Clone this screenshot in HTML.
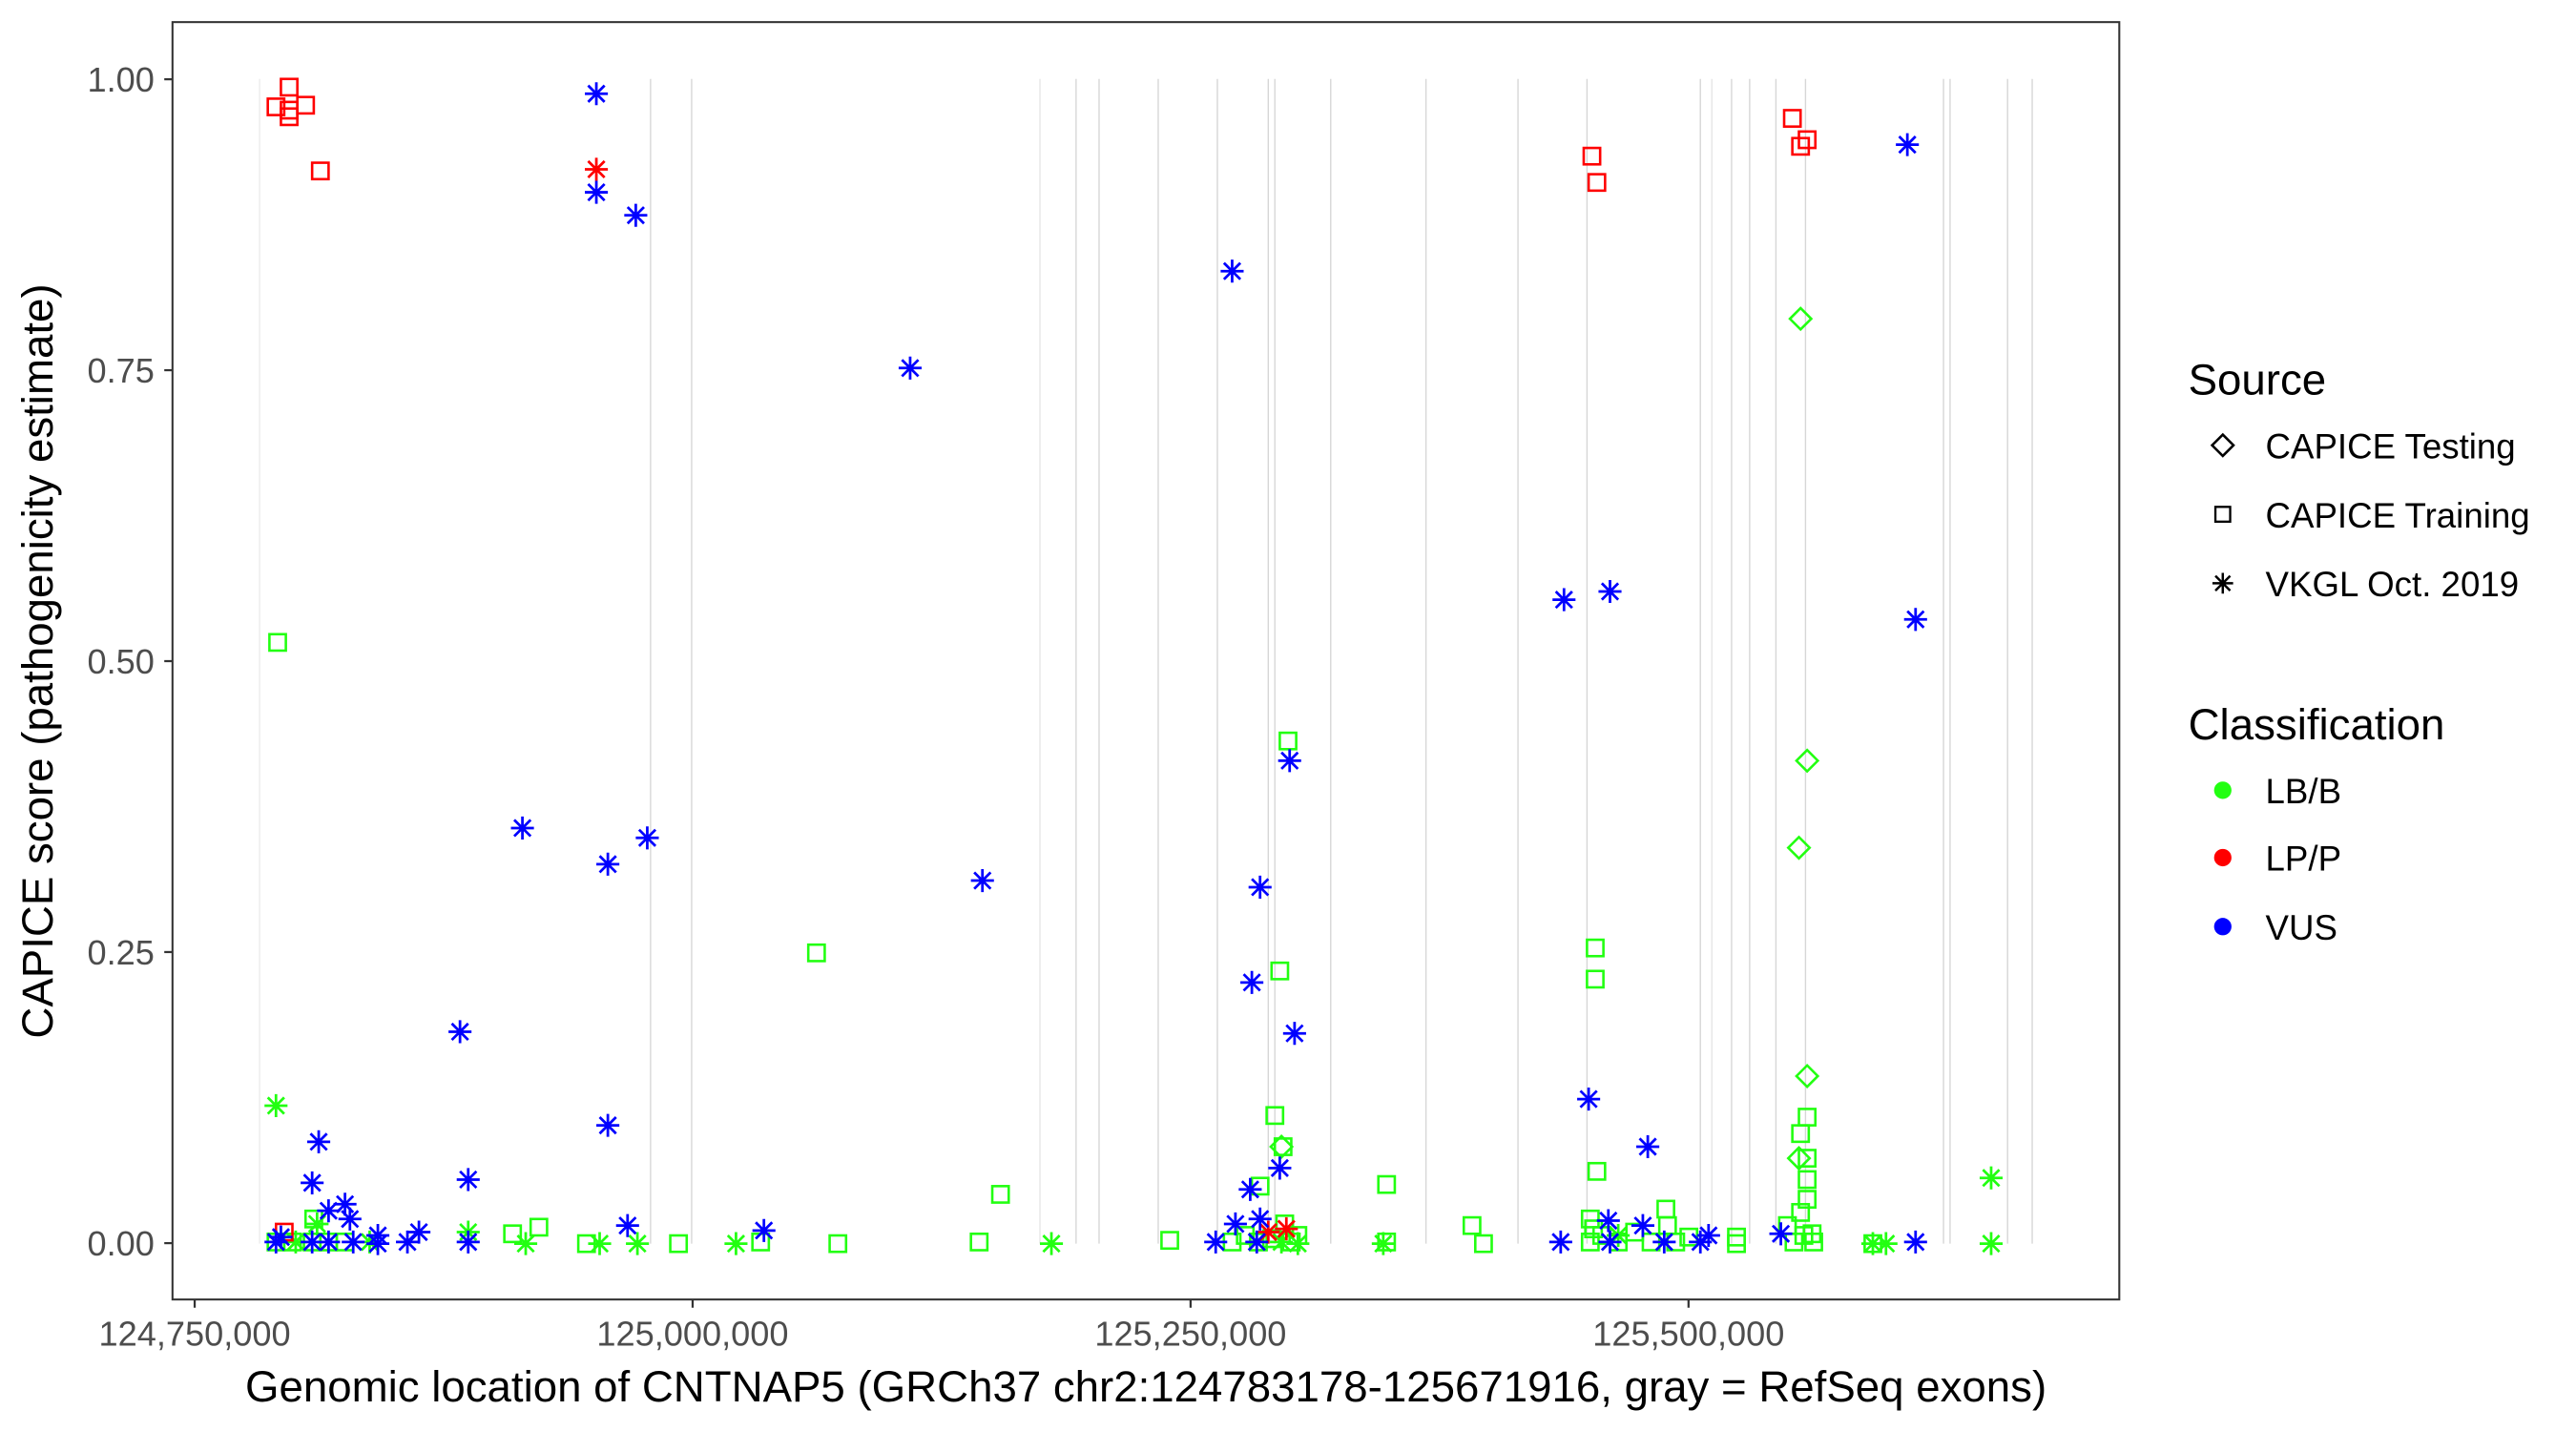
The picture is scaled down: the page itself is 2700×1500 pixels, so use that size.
<!DOCTYPE html>
<html><head><meta charset="utf-8"><style>html,body{margin:0;padding:0;background:#fff}svg{display:block}</style></head><body>
<svg width="2700" height="1500" viewBox="0 0 1568 871" xmlns="http://www.w3.org/2000/svg" font-family="Liberation Sans, Arial, sans-serif">
<defs>
<g id="a" fill="none" stroke-width="1.6"><path d="M-7 0H7M0-7V7M-5-5L5 5M-5 5L5-5"/></g>
<rect id="s" x="-5" y="-5" width="10" height="10" fill="none" stroke-width="1.5"/>
<path id="d" d="M0-6.5L6.5 0L0 6.5L-6.5 0Z" fill="none" stroke-width="1.5"/>
</defs>
<rect x="105" y="13.4" width="1185" height="777.6" fill="#fff"/>
<g stroke="#d6d6d6" stroke-width="0.8">
<line x1="158" y1="48" x2="158" y2="757" stroke="#ececec"/>
<line x1="396" y1="48" x2="396" y2="757"/><line x1="421" y1="48" x2="421" y2="757"/>
<line x1="633" y1="48" x2="633" y2="757" stroke="#e6e6e6"/><line x1="655" y1="48" x2="655" y2="757"/><line x1="669" y1="48" x2="669" y2="757"/>
<line x1="705" y1="48" x2="705" y2="757"/><line x1="741" y1="48" x2="741" y2="757"/><line x1="772" y1="48" x2="772" y2="757"/><line x1="776" y1="48" x2="776" y2="757"/><line x1="810" y1="48" x2="810" y2="757"/>
<line x1="868" y1="48" x2="868" y2="757"/><line x1="924" y1="48" x2="924" y2="757"/><line x1="966" y1="48" x2="966" y2="757"/>
<line x1="1035" y1="48" x2="1035" y2="757"/><line x1="1042" y1="48" x2="1042" y2="757" stroke="#e6e6e6"/><line x1="1054" y1="48" x2="1054" y2="757"/><line x1="1065" y1="48" x2="1065" y2="757"/><line x1="1081" y1="48" x2="1081" y2="757"/><line x1="1099" y1="48" x2="1099" y2="757"/>
<line x1="1183" y1="48" x2="1183" y2="757"/><line x1="1187" y1="48" x2="1187" y2="757"/><line x1="1222" y1="48" x2="1222" y2="757"/><line x1="1237" y1="48" x2="1237" y2="757"/>
</g>
<g stroke="#22ff11">
<use href="#s" x="169" y="391"/><use href="#s" x="497" y="580"/><use href="#s" x="784" y="451"/><use href="#s" x="779" y="591"/><use href="#s" x="776" y="679"/><use href="#s" x="781" y="698"/><use href="#s" x="767" y="722"/><use href="#s" x="844" y="721"/><use href="#s" x="609" y="727"/>
<use href="#s" x="971" y="577"/><use href="#s" x="971" y="596"/><use href="#s" x="972" y="713"/><use href="#s" x="1014" y="736"/><use href="#s" x="1100" y="680"/><use href="#s" x="1096" y="690"/><use href="#s" x="1100" y="705"/><use href="#s" x="1100" y="718"/><use href="#s" x="1100" y="730"/><use href="#s" x="1096" y="738"/>
<use href="#s" x="896" y="746"/><use href="#s" x="328" y="747"/><use href="#s" x="312" y="751"/><use href="#s" x="191" y="742"/><use href="#s" x="596" y="756"/><use href="#s" x="712" y="755"/><use href="#s" x="510" y="757"/><use href="#s" x="463" y="756"/><use href="#s" x="357" y="757"/><use href="#s" x="413" y="757"/><use href="#s" x="903" y="757"/><use href="#s" x="1057" y="753"/><use href="#s" x="1057" y="757"/><use href="#s" x="1103" y="751"/>
<use href="#s" x="168" y="756"/><use href="#s" x="178" y="756"/><use href="#s" x="190" y="756"/><use href="#s" x="200" y="756"/><use href="#s" x="210" y="756"/>
<use href="#s" x="750" y="756"/><use href="#s" x="758" y="752"/><use href="#s" x="766" y="756"/><use href="#s" x="774" y="754"/><use href="#s" x="782" y="745"/><use href="#s" x="786" y="756"/><use href="#s" x="790" y="752"/><use href="#s" x="844" y="756"/>
<use href="#s" x="968" y="742"/><use href="#s" x="970" y="748"/><use href="#s" x="968" y="756"/><use href="#s" x="975" y="752"/><use href="#s" x="985" y="756"/><use href="#s" x="995" y="750"/><use href="#s" x="1005" y="756"/><use href="#s" x="1015" y="746"/><use href="#s" x="1020" y="756"/><use href="#s" x="1028" y="753"/>
<use href="#s" x="1088" y="746"/><use href="#s" x="1092" y="756"/><use href="#s" x="1098" y="752"/><use href="#s" x="1104" y="756"/><use href="#s" x="1140" y="757"/>
<use href="#d" x="1096" y="194"/><use href="#d" x="1100" y="463"/><use href="#d" x="1095" y="516"/><use href="#d" x="1100" y="655"/><use href="#d" x="1095" y="705"/><use href="#d" x="780" y="698"/>
<use href="#a" x="168" y="673"/><use href="#a" x="1212" y="717"/><use href="#a" x="1212" y="757"/><use href="#a" x="640" y="757"/><use href="#a" x="448" y="757"/><use href="#a" x="388" y="757"/><use href="#a" x="365" y="757"/><use href="#a" x="320" y="757"/><use href="#a" x="285" y="750"/><use href="#a" x="842" y="757"/><use href="#a" x="1140" y="757"/><use href="#a" x="1148" y="757"/><use href="#a" x="790" y="757"/><use href="#a" x="780" y="756"/><use href="#a" x="180" y="756"/><use href="#a" x="193" y="745"/><use href="#a" x="225" y="756"/><use href="#a" x="985" y="752"/>
</g>
<g stroke="#ff0000">
<use href="#s" x="168" y="65"/><use href="#s" x="176" y="53"/><use href="#s" x="176" y="71"/><use href="#s" x="186" y="64"/><use href="#s" x="176" y="67"/><use href="#s" x="195" y="104"/><use href="#s" x="173" y="750"/>
<use href="#s" x="969" y="95"/><use href="#s" x="972" y="111"/><use href="#s" x="1091" y="72"/><use href="#s" x="1096" y="89"/><use href="#s" x="1100" y="85"/>
<use href="#a" x="363" y="103"/><use href="#a" x="772" y="750"/><use href="#a" x="783" y="748"/>
</g>
<g stroke="#0000ff">
<use href="#a" x="363" y="57"/><use href="#a" x="363" y="117"/><use href="#a" x="387" y="131"/><use href="#a" x="554" y="224"/><use href="#a" x="750" y="165"/><use href="#a" x="952" y="365"/><use href="#a" x="980" y="360"/><use href="#a" x="1161" y="88"/><use href="#a" x="1166" y="377"/>
<use href="#a" x="318" y="504"/><use href="#a" x="370" y="526"/><use href="#a" x="394" y="510"/><use href="#a" x="598" y="536"/><use href="#a" x="767" y="540"/><use href="#a" x="785" y="463"/><use href="#a" x="762" y="598"/><use href="#a" x="788" y="629"/><use href="#a" x="280" y="628"/><use href="#a" x="285" y="718"/><use href="#a" x="370" y="685"/>
<use href="#a" x="194" y="695"/><use href="#a" x="190" y="720"/><use href="#a" x="200" y="737"/><use href="#a" x="210" y="733"/><use href="#a" x="213" y="742"/><use href="#a" x="382" y="746"/><use href="#a" x="465" y="749"/><use href="#a" x="761" y="724"/><use href="#a" x="779" y="711"/><use href="#a" x="967" y="669"/><use href="#a" x="1003" y="698"/><use href="#a" x="979" y="743"/><use href="#a" x="1000" y="746"/><use href="#a" x="1084" y="751"/><use href="#a" x="1040" y="752"/>
<use href="#a" x="168" y="756"/><use href="#a" x="171" y="753"/><use href="#a" x="190" y="756"/><use href="#a" x="200" y="756"/><use href="#a" x="215" y="756"/><use href="#a" x="230" y="752"/><use href="#a" x="230" y="757"/><use href="#a" x="248" y="756"/><use href="#a" x="255" y="750"/><use href="#a" x="285" y="756"/>
<use href="#a" x="740" y="756"/><use href="#a" x="752" y="745"/><use href="#a" x="767" y="742"/><use href="#a" x="765" y="756"/><use href="#a" x="950" y="756"/><use href="#a" x="980" y="756"/><use href="#a" x="1013" y="756"/><use href="#a" x="1035" y="756"/><use href="#a" x="1166" y="756"/>
</g>
<rect x="105" y="13.4" width="1185" height="777.6" fill="none" stroke="#333" stroke-width="1.2"/>
<g stroke="#333" stroke-width="1.3">
<line x1="100" y1="48.2" x2="105" y2="48.2"/><line x1="100" y1="225.3" x2="105" y2="225.3"/><line x1="100" y1="402.4" x2="105" y2="402.4"/><line x1="100" y1="579.5" x2="105" y2="579.5"/><line x1="100" y1="756.7" x2="105" y2="756.7"/>
<line x1="118.5" y1="791" x2="118.5" y2="796"/><line x1="421.6" y1="791" x2="421.6" y2="796"/><line x1="724.7" y1="791" x2="724.7" y2="796"/><line x1="1027.8" y1="791" x2="1027.8" y2="796"/>
</g>
<g fill="#4d4d4d" font-size="21" text-anchor="end">
<text x="94" y="55.7">1.00</text><text x="94" y="232.8">0.75</text><text x="94" y="409.9">0.50</text><text x="94" y="587">0.25</text><text x="94" y="764.2">0.00</text>
</g>
<g fill="#4d4d4d" font-size="21" text-anchor="middle">
<text x="118.5" y="819">124,750,000</text><text x="421.6" y="819">125,000,000</text><text x="724.7" y="819">125,250,000</text><text x="1027.8" y="819">125,500,000</text>
</g>
<text x="697.5" y="853" font-size="26.5" text-anchor="middle">Genomic location of CNTNAP5 (GRCh37 chr2:124783178-125671916, gray = RefSeq exons)</text>
<text transform="translate(32,402.4) rotate(-90)" font-size="26.5" text-anchor="middle">CAPICE score (pathogenicity estimate)</text>
<g font-size="26.5"><text x="1332" y="240">Source</text><text x="1332" y="450">Classification</text></g>
<g font-size="21.3">
<text x="1379" y="279">CAPICE Testing</text><text x="1379" y="321">CAPICE Training</text><text x="1379" y="363">VKGL Oct. 2019</text>
<text x="1379" y="489">LB/B</text><text x="1379" y="530">LP/P</text><text x="1379" y="572">VUS</text>
</g>
<g stroke="#000">
<use href="#d" x="1353" y="271"/>
<use href="#s" x="1353" y="313" transform="translate(1353 313) scale(0.9) translate(-1353 -313)"/>
<use href="#a" x="1353" y="355" transform="translate(1353 355) scale(0.9) translate(-1353 -355)"/>
</g>
<circle cx="1353" cy="481" r="5.3" fill="#22ff11"/><circle cx="1353" cy="522" r="5.3" fill="#ff0000"/><circle cx="1353" cy="564" r="5.3" fill="#0000ff"/>
</svg>
</body></html>
